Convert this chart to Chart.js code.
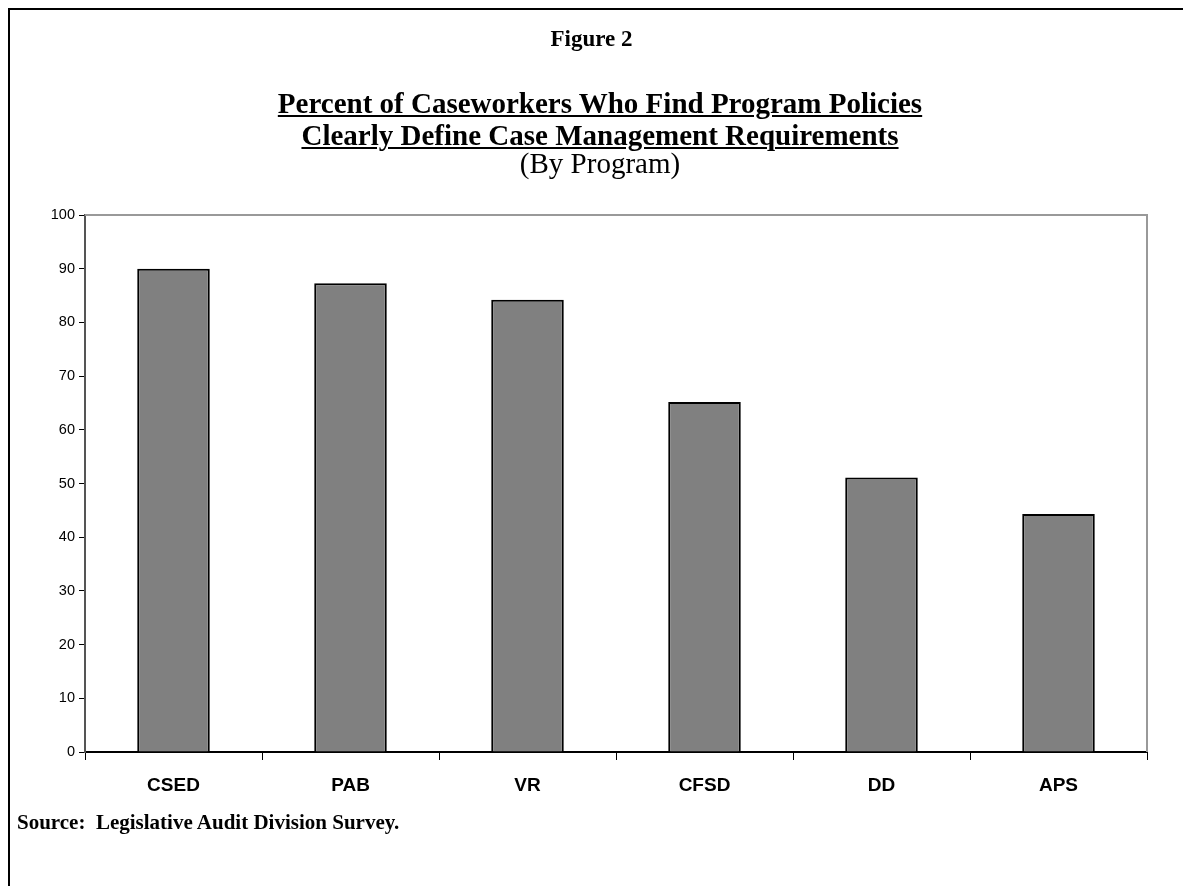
<!DOCTYPE html>
<html>
<head>
<meta charset="utf-8">
<script src="https://cdn.jsdelivr.net/npm/chart.js@4.4.1/dist/chart.umd.min.js"></script>
<style>
  html, body { margin: 0; padding: 0; background: #fff; }
  #wrap { position: relative; width: 1183px; height: 886px; overflow: hidden; }
  #frame { position: absolute; left: 8px; top: 8px; width: 1300px; height: 1000px;
           border-top: 2px solid #000; border-left: 2px solid #000; }
  canvas { position: absolute; left: 0; top: 0; }
  .t { position: absolute; left: 0; width: 1200px; text-align: center; line-height: 33px;
       font-family: "Liberation Serif", "Times New Roman", serif; color: #000; white-space: nowrap; }
  .b { font-weight: bold; }
  .u { text-decoration: underline; text-decoration-thickness: 2px; text-underline-offset: 2px; }
  #src { position: absolute; left: 17px; top: 810px; font-family: "Liberation Serif", serif;
         font-weight: bold; font-size: 21px; white-space: pre; }
</style>
</head>
<body>
<div id="wrap">
  <div id="frame"></div>
  <canvas id="grafico" width="1183" height="886"></canvas>
  <div class="t b" style="top:22px;width:1183px;font-size:23px;">Figure 2</div>
  <div class="t b u" style="top:87px;font-size:29px;">Percent of Caseworkers Who Find Program Policies</div>
  <div class="t b u" style="top:119px;font-size:29px;">Clearly Define Case Management Requirements</div>
  <div class="t" style="top:147px;font-size:29px;">(By Program)</div>
  <div id="src">Source:  Legislative Audit Division Survey.</div>
</div>
<script>
// dados
const programas = ['CSED', 'PAB', 'VR', 'CFSD', 'DD', 'APS'];
const percentuais = [90, 87.3, 84.2, 65.2, 51.1, 44.3];
const ticksY = [0, 10, 20, 30, 40, 50, 60, 70, 80, 90, 100];

// borda cinza em cima e na direita da area do grafico
const bordaPlot = {
    id: 'bordaPlot',
    beforeDatasetsDraw(chart) {
        const { ctx, chartArea: a } = chart;
        ctx.save();
        ctx.strokeStyle = '#999999';
        ctx.lineWidth = 2;
        ctx.beginPath();
        ctx.moveTo(a.left, a.top);
        ctx.lineTo(a.right, a.top);
        ctx.lineTo(a.right, a.bottom);
        ctx.stroke();
        ctx.restore();
    }
};

const ctx = document.getElementById('grafico').getContext('2d');
new Chart(ctx, {
    type: 'bar',
    data: {
        labels: programas,
        datasets: [{
            data: percentuais,
            backgroundColor: '#808080',
            borderColor: '#000000',
            borderWidth: 2,
            categoryPercentage: 1,
            barPercentage: 0.41
        }]
    },
    options: {
        responsive: false,
        animation: false,
        devicePixelRatio: 1,
        layout: { padding: { left: 0, top: 215, right: 36, bottom: 0 } },
        plugins: { legend: { display: false }, tooltip: { enabled: false } },
        scales: {
            x: {
                offset: true,
                grid: { offset: true, drawOnChartArea: false, tickLength: 8, color: '#000', lineWidth: 1 },
                border: { color: '#000', width: 2 },
                ticks: {
                    color: '#000', padding: 14,
                    font: { family: 'Liberation Sans', weight: 'bold', size: 19 }
                },
                afterFit(scale) { scale.height = 134; }
            },
            y: {
                min: 0, max: 100,
                afterBuildTicks(scale) { scale.ticks = ticksY.map(v => ({ value: v })); },
                grid: { drawOnChartArea: false, tickLength: 6, color: '#000', lineWidth: 1 },
                border: { color: '#555', width: 2 },
                ticks: {
                    color: '#000', padding: 4,
                    font: { family: 'Liberation Sans', size: 14.5 }
                },
                afterFit(scale) { scale.width = 85; }
            }
        }
    },
    plugins: [bordaPlot]
});
</script>
</body>
</html>
